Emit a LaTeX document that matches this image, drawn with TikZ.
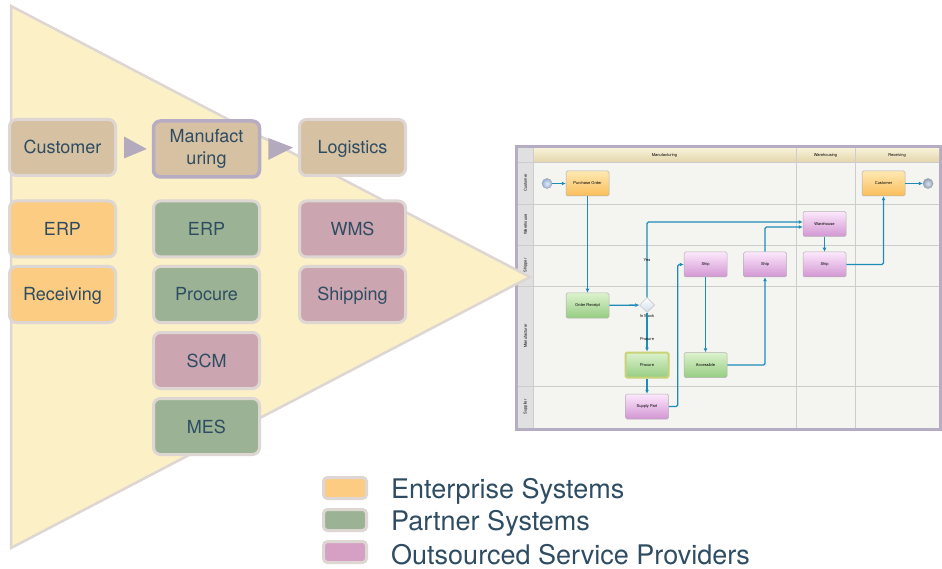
\documentclass[tikz,border=0pt]{standalone}
\usepackage{fontspec}
\setmainfont{TeX Gyre Heros}
\usetikzlibrary{positioning,shapes.geometric,arrows.meta}

\definecolor{ink}{RGB}{46,76,98}
\definecolor{rim}{RGB}{221,214,210}
\definecolor{wedge}{RGB}{251,240,198}
\definecolor{tan}{RGB}{214,193,162}
\definecolor{ent}{RGB}{251,204,130}
\definecolor{prt}{RGB}{155,179,148}
\definecolor{osp}{RGB}{203,165,175}
\definecolor{ospleg}{RGB}{214,160,196}
\definecolor{lav}{RGB}{182,172,196}
\definecolor{pointer}{RGB}{180,170,190}
\definecolor{flowline}{RGB}{30,140,185}
\definecolor{grid}{RGB}{205,205,205}
\definecolor{paper}{RGB}{244,244,240}
\definecolor{lanegray}{RGB}{224,224,224}

\begin{document}
\begin{tikzpicture}[x=1pt,y=-1pt,
  sys/.style={draw=rim, line width=3pt, rounded corners=7pt, minimum width=106pt,
    minimum height=56pt, text=ink, font=\fontsize{18}{22}\selectfont, align=center},
  one/.style={sys, text height=13.5pt, text depth=0.5pt},
  legsw/.style={draw=rim, line width=3pt, rounded corners=4pt, minimum width=43pt, minimum height=21pt},
  legtxt/.style={text=ink, font=\fontsize{27}{30}\selectfont, inner sep=0pt, yshift=-3pt},
  task/.style={draw=black!30, line width=0.5pt, rounded corners=1.5pt, minimum width=43pt,
    minimum height=25pt, inner sep=0pt, font=\fontsize{4}{5}\selectfont},
  orng/.style={task, top color={rgb,255:red,255;green,232;blue,178}, bottom color={rgb,255:red,250;green,190;blue,90}},
  pnk/.style={task, top color={rgb,255:red,252;green,232;blue,252}, bottom color={rgb,255:red,210;green,150;blue,210}},
  grn/.style={task, top color={rgb,255:red,220;green,242;blue,205}, bottom color={rgb,255:red,150;green,205;blue,130}},
  ev/.style={circle, draw=black!35, line width=0.5pt, minimum size=10pt, inner sep=0pt},
  flow/.style={draw=flowline, line width=1.3pt, rounded corners=1.5pt, -{Latex[length=4pt,width=4pt]}},
  wee/.style={font=\fontsize{4}{5}\selectfont, inner sep=0.5pt}
]
\useasboundingbox (0,0) rectangle (942,569);

% process map
\draw[draw=lav, line width=3pt, fill=paper] (516.5,147) rectangle (940.5,429.5);
\fill[lanegray] (518,148.5) rectangle (533,428);
\shade[top color={rgb,255:red,247;green,241;blue,215}, bottom color={rgb,255:red,228;green,214;blue,172}] (533,148.5) rectangle (939,162);
\draw[grid, line width=0.6pt] (518,162) -- (939,162);
\draw[grid, line width=0.6pt] (518,204) -- (939,204);
\draw[grid, line width=0.6pt] (518,245) -- (939,245);
\draw[grid, line width=0.6pt] (518,286) -- (939,286);
\draw[grid, line width=0.6pt] (518,386) -- (939,386);
\draw[grid, line width=0.6pt] (533,148.5) -- (533,428);
\draw[grid, line width=0.6pt] (796,148.5) -- (796,428);
\draw[grid, line width=0.6pt] (855,148.5) -- (855,428);

\node[wee] (hman) at (664.5,155.5) {Manufacturing};
\node[wee] (hwar) at (825.5,155.5) {Warehousing};
\node[wee] (hrec) at (897,155.5) {Receiving};
\node[wee, rotate=90] (lcus) at (525.5,183) {Customer};
\node[wee, rotate=90] (lwar) at (525.5,224.5) {Warehouse};
\node[wee, rotate=90] (lshp) at (525.5,265.5) {Shipper};
\node[wee, rotate=90] (lmfr) at (525.5,336) {Manufacturer};
\node[wee, rotate=90] (lsup) at (525.5,407) {Supplier};

\node[ev, inner color={rgb,255:red,225;green,235;blue,250}, outer color={rgb,255:red,150;green,175;blue,215}] (st) at (547,183.5) {};
\node[orng] (po) at (587.5,183.5) {Purchase Order};
\node[orng] (cust2) at (883.5,183.5) {Customer};
\node[ev, inner color={rgb,255:red,220;green,228;blue,238}, outer color={rgb,255:red,140;green,160;blue,185}] (en) at (928,183.5) {};
\node[pnk] (wh) at (824.5,224) {Warehouse};
\node[pnk] (ship1) at (705.5,264.5) {Ship};
\node[pnk] (ship2) at (765,264.5) {Ship};
\node[pnk] (ship3) at (824.5,264.5) {Ship};
\node[grn] (orcpt) at (587.5,305.5) {Order Receipt};
\node[diamond, draw=black!25, line width=0.5pt, inner sep=0pt, minimum width=15pt, minimum height=15pt,
  top color=white, bottom color={rgb,255:red,205;green,220;blue,235}] (dia) at (647,305) {};
\node[wee, below=1pt of dia] (stock) {In Stock};
\node[grn, draw={rgb,255:red,200;green,210;blue,120}, line width=2pt] (proc) at (647,365) {Procure};
\node[grn] (acc) at (705.5,365) {Accessible};
\node[pnk] (sup) at (647,406.5) {Supply Part};

\draw[flow] (st) -- (po);
\draw[flow] (po) -- (orcpt);
\draw[flow] (orcpt) -- (dia);
\draw[flow] (dia.north) |- node[wee, pos=0.25] {Yes} ([yshift=2pt]wh.west);
\draw[flow] (dia) -- node[wee, pos=0.68] {Procure} (proc);
\draw[flow] (proc) -- (sup);
\draw[flow] (sup.east) -- ++(9,0) |- (ship1.west);
\draw[flow] (ship1) -- (acc);
\draw[flow] (acc.east) -| (ship2.south);
\draw[flow] (ship2.north) |- ([yshift=-3pt]wh.west);
\draw[flow] (wh) -- (ship3);
\draw[flow] (ship3.east) -| (cust2.south);
\draw[flow] (cust2) -- (en);

% value chain wedge
\draw[draw=rim, line width=2.5pt, fill=wedge] (11,6) -- (530,277) -- (11,548) -- cycle;

\node[one, fill=tan] (cust) at (62.5,147.5) {Customer};
\node[sys, fill=tan, draw=lav, line width=3.5pt] (manu) at (206.5,149) {Manufact\\uring};
\node[one, fill=tan] (logi) at (352.5,147.5) {Logistics};
\fill[pointer] ([xshift=7pt,yshift=11pt]cust.east) -- ([xshift=-5pt]manu.west) -- ([xshift=7pt,yshift=-11pt]cust.east) -- cycle;
\fill[pointer] ([xshift=7pt,yshift=11pt]manu.east) -- ([xshift=-5pt]logi.west) -- ([xshift=7pt,yshift=-11pt]manu.east) -- cycle;

\node[one, fill=ent] (erp1) at (62.5,229) {ERP};
\node[one, fill=ent] (recv) at (62.5,294.5) {Receiving};
\node[one, fill=prt] (erp2) at (206.5,229) {ERP};
\node[one, fill=prt] (proc2) at (206.5,294.5) {Procure};
\node[one, fill=osp] (scm) at (206.5,360.5) {SCM};
\node[one, fill=prt] (mes) at (206.5,426.5) {MES};
\node[one, fill=osp] (wms) at (352.5,229) {WMS};
\node[one, fill=osp] (shpg) at (352.5,294.5) {Shipping};

% legend
\node[legsw, fill=ent] (lg1) at (345,488) {};
\node[legsw, fill=prt] (lg2) at (345,520) {};
\node[legsw, fill=ospleg] (lg3) at (345,552) {};
\node[legtxt, right=23pt of lg1] (lt1) {Enterprise Systems};
\node[legtxt, right=23pt of lg2] (lt2) {Partner Systems};
\node[legtxt, right=23pt of lg3] (lt3) {Outsourced Service Providers};
\end{tikzpicture}
\end{document}
